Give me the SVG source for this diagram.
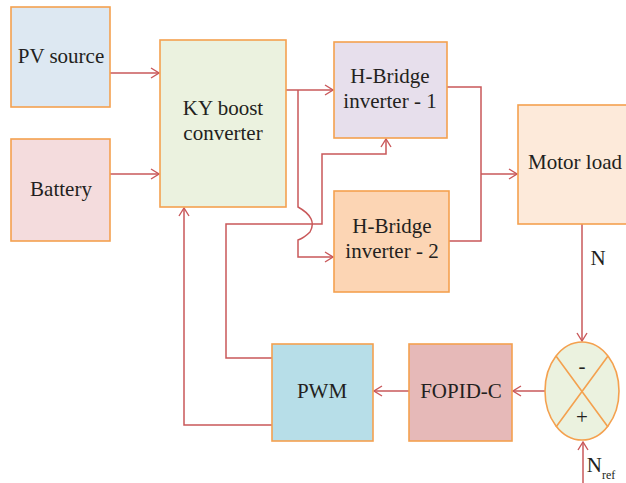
<svg xmlns="http://www.w3.org/2000/svg" width="626" height="483" viewBox="0 0 626 483">
<defs>
<marker id="arr" markerWidth="10" markerHeight="12" refX="9" refY="6" orient="auto" markerUnits="userSpaceOnUse">
<path d="M1,1 L9,6 L1,11" fill="none" stroke="#C9585A" stroke-width="1.4"/>
</marker>
<style>
.box{stroke:#F4A14F;stroke-width:1.6}
.t{font-family:"Liberation Serif","DejaVu Serif",serif;font-size:21px;fill:#231F20;text-anchor:middle}
.c{fill:none;stroke:#C9585A;stroke-width:1.5}
</style>
</defs>
<rect width="626" height="483" fill="#fff"/>
<g id="connectors">
<path class="c" d="M110,73 H159" marker-end="url(#arr)"/>
<path class="c" d="M110,174 H159" marker-end="url(#arr)"/>
<path class="c" d="M286,90 H333" marker-end="url(#arr)"/>
<path class="c" d="M298,90 V207 Q318,218 310,232 Q304,238 298,240 V257 H333" marker-end="url(#arr)"/>
<path class="c" d="M447,87 H481 V241 H449"/>
<path class="c" d="M481,174 H517" marker-end="url(#arr)"/>
<path class="c" d="M272,358 H226 V224 H322 V154 H386 V139" marker-end="url(#arr)"/>
<path class="c" d="M272,425 H184 V208" marker-end="url(#arr)"/>
<path class="c" d="M582,224 V341" marker-end="url(#arr)"/>
<path class="c" d="M545,391 H513" marker-end="url(#arr)"/>
<path class="c" d="M409,391 H374" marker-end="url(#arr)"/>
<path class="c" d="M583,483 V442" marker-end="url(#arr)"/>
</g>
<g id="pv"><rect class="box" x="11" y="7" width="99" height="100" fill="#DDE8F2"/><text class="t" x="61" y="63">PV source</text></g>
<g id="battery"><rect class="box" x="11" y="139" width="99" height="102" fill="#F4DCDD"/><text class="t" x="61" y="196">Battery</text></g>
<g id="ky"><rect class="box" x="160" y="40" width="126" height="167" fill="#EBF2DF"/><text class="t" x="223" y="115">KY boost</text><text class="t" x="223" y="140">converter</text></g>
<g id="hb1"><rect class="box" x="334" y="42" width="113" height="96" fill="#E7DFEC"/><text class="t" x="390" y="83">H-Bridge</text><text class="t" x="390" y="108">inverter - 1</text></g>
<g id="hb2"><rect class="box" x="334" y="191" width="115" height="101" fill="#FCD5B4"/><text class="t" x="392" y="233">H-Bridge</text><text class="t" x="392" y="258">inverter - 2</text></g>
<g id="motor"><rect class="box" x="518" y="105" width="120" height="119" fill="#FDEADA"/><text class="t" x="575" y="169">Motor load</text></g>
<text class="t" x="598" y="265">N</text>
<g id="sum"><ellipse class="box" cx="582" cy="391" rx="37" ry="49" fill="#EBF2DF"/>
<path d="M556,356 L608,427 M608,356 L556,427" stroke="#F4A14F" stroke-width="1.6"/>
<text class="t" x="582" y="373">-</text><text class="t" x="582" y="424">+</text></g>
<g id="fopid"><rect class="box" x="409" y="344" width="103" height="97" fill="#E6B9B8"/><text class="t" x="461" y="398">FOPID-C</text></g>
<g id="pwm"><rect class="box" x="272" y="344" width="101" height="97" fill="#B7DEE8"/><text class="t" x="322" y="398">PWM</text></g>
<text class="t" x="601" y="472">N<tspan font-size="12" dy="7">ref</tspan></text>
</svg>
